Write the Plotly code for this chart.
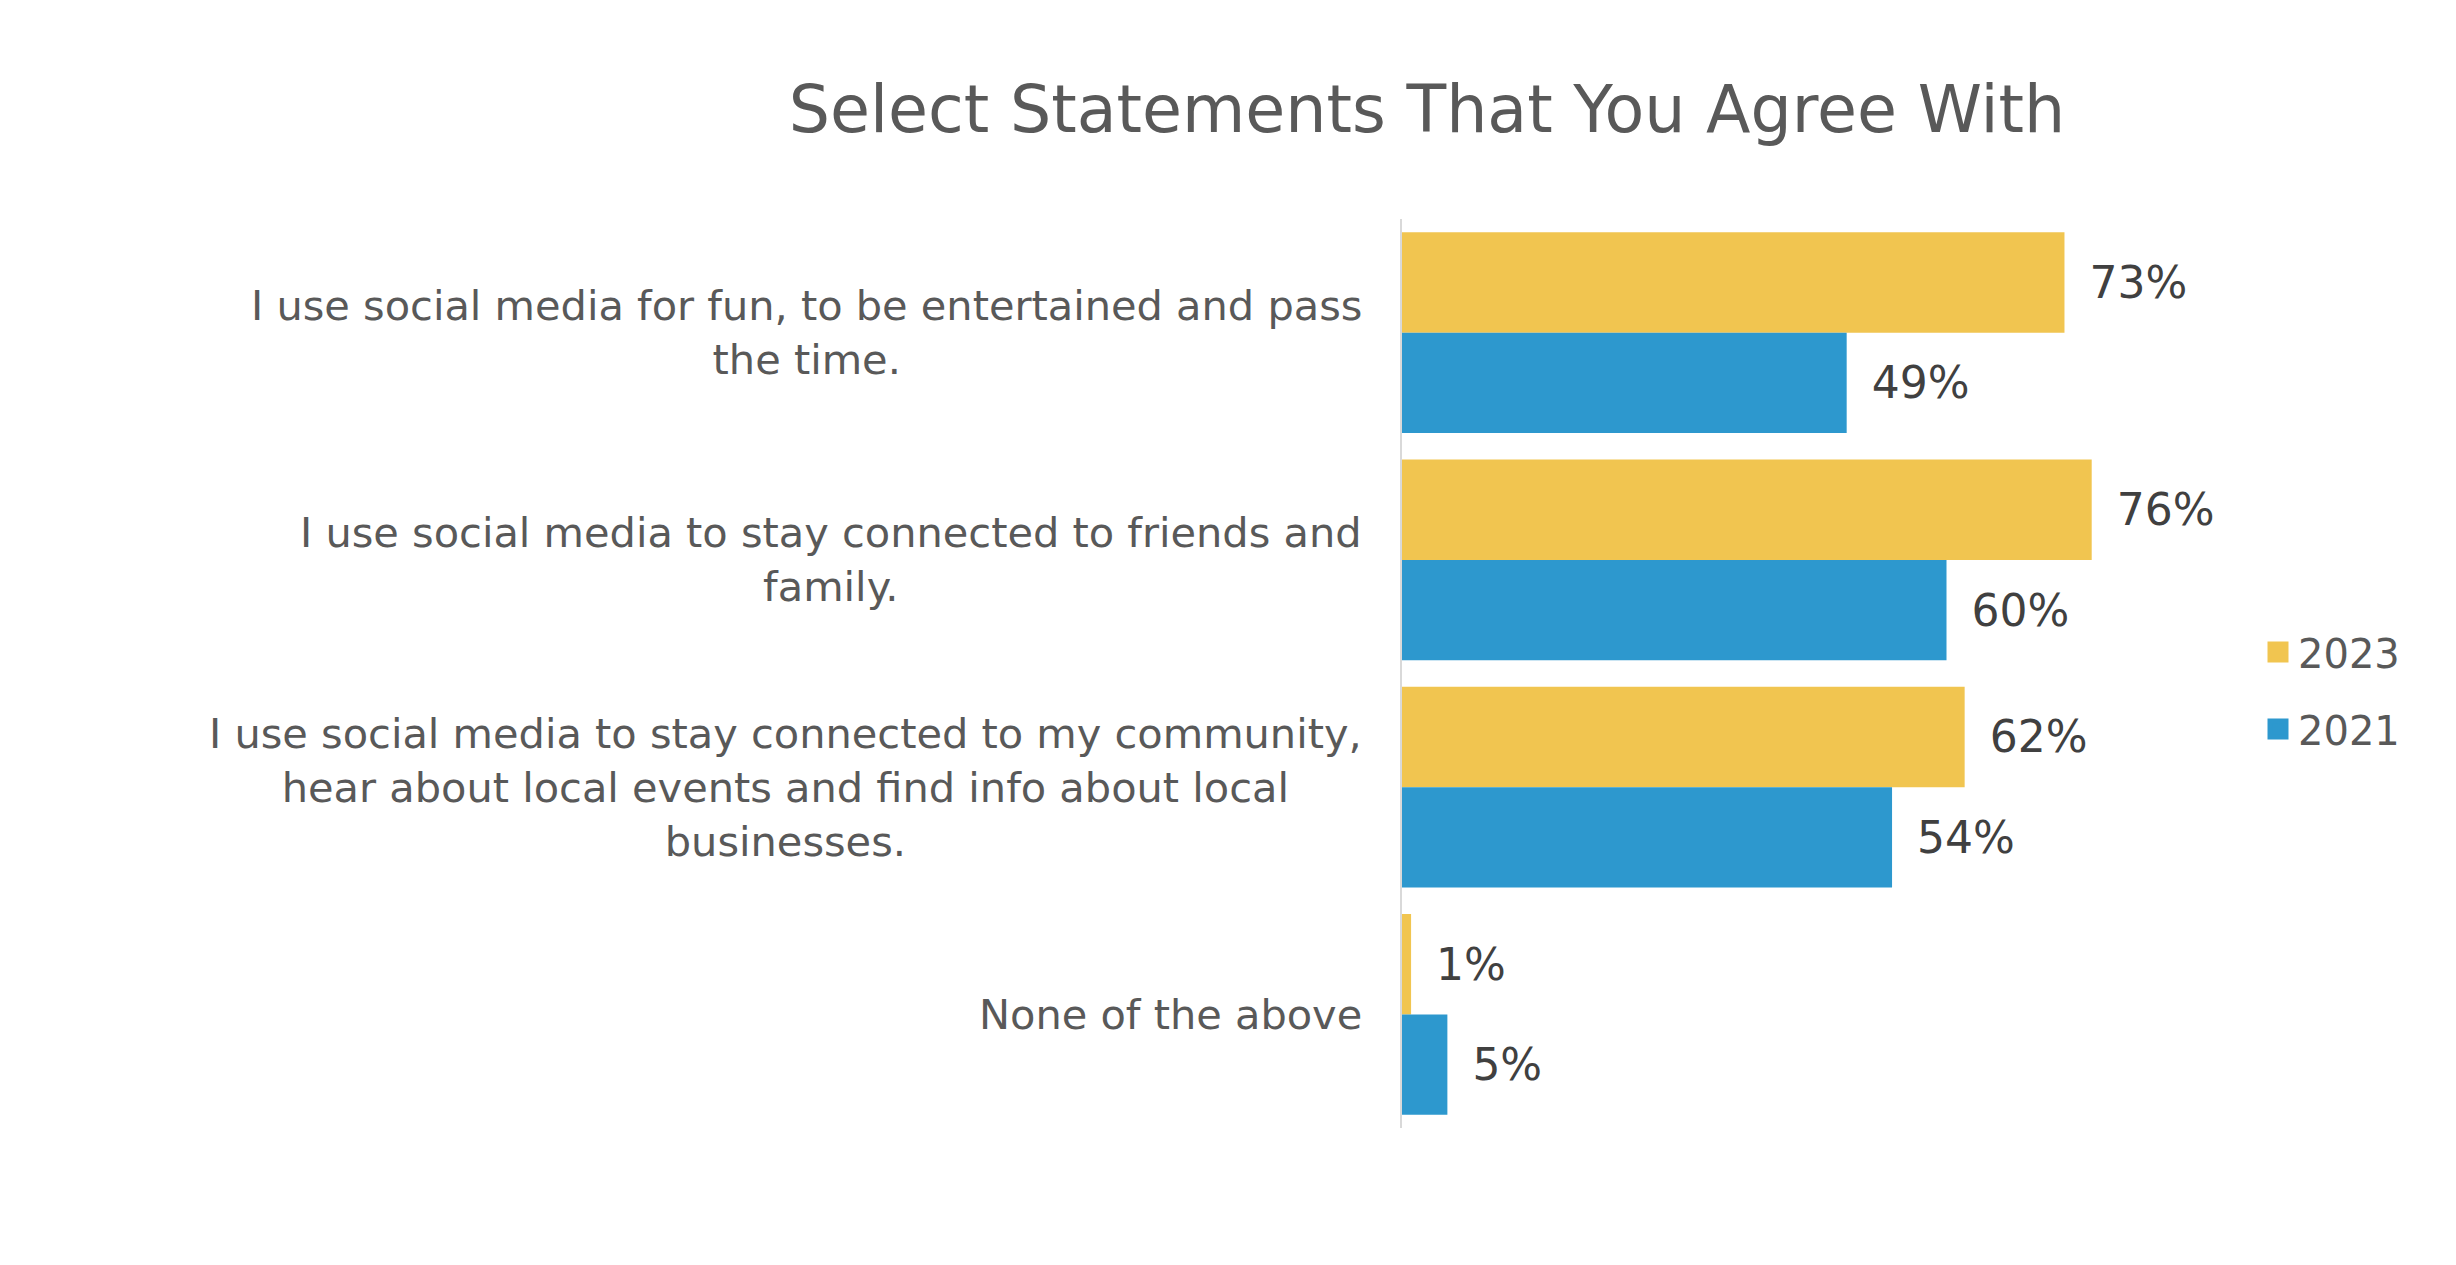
import plotly.graph_objects as go

categories = [
    "I use social media for fun, to be entertained and pass<br>the time.",
    "I use social media to stay connected to friends and<br>family.",
    "I use social media to stay connected to my community,<br>hear about local events and find info about local<br>businesses.",
    "None of the above",
]
series_names = ["2023", "2021"]
values_2023 = [0.73, 0.76, 0.62, 0.01]
values_2021 = [0.49, 0.60, 0.54, 0.05]

colors = {"2023": "#F1C550", "2021": "#2D98CE"}
FONT = "DejaVu Sans, Verdana, sans-serif"

W, H = 2456, 1265
ml, mr, mt, mb = 1394, 336, 211, 145
PW = W - ml - mr
PH = H - mt - mb

fig = go.Figure()
for name, vals in zip(series_names, [values_2023, values_2021]):
    fig.add_trace(go.Bar(
        y=categories, x=vals, name=name, orientation="h",
        marker=dict(color=colors[name], line=dict(width=0)),
        texttemplate="\u2002%{x:.0%}", textposition="outside",
        textfont=dict(family=FONT, size=44, color="#404040"),
        cliponaxis=False, showlegend=False, legendgroup=name,
    ))
# legend entries
for name in series_names:
    fig.add_trace(go.Scatter(
        x=[None], y=[None], mode="markers", name=name, legendgroup=name,
        marker=dict(symbol="square", size=16, color=colors[name],
                    line=dict(color=colors[name], width=5)),
    ))

# category labels (centered multi-line, right aligned block)
for c in categories:
    fig.add_annotation(
        x=-38 / PW, xref="paper", y=c, yref="y",
        text=c, showarrow=False, xanchor="right", yanchor="middle",
        align="center", font=dict(family=FONT, size=41.5, color="#595959"),
    )

fig.update_layout(
    width=W, height=H,
    margin=dict(l=ml, r=mr, t=mt, b=mb, pad=0),
    paper_bgcolor="white", plot_bgcolor="white",
    barmode="group", bargap=0.117, bargroupgap=0,
    title=dict(text="Select Statements That You Agree With",
               x=(1427 - 8) / W, xanchor="center", xref="container",
               y=1 - 101 / H, yanchor="middle", yref="container",
               font=dict(family=FONT, size=65, color="#595959")),
    xaxis=dict(range=[0, 0.8], showgrid=False, zeroline=False,
               showticklabels=False, showline=False, fixedrange=True),
    yaxis=dict(autorange="reversed", showticklabels=False, showgrid=False,
               showline=True, linecolor="#D9D9D9", linewidth=2, ticks=""),
    legend=dict(x=(2258 - 1402) / PW, xref="paper", y=0.5 - 17 / PH,
                yanchor="middle", xanchor="left", traceorder="grouped",
                tracegroupgap=22,
                font=dict(family=FONT, size=40, color="#595959"),
                bgcolor="rgba(0,0,0,0)", itemwidth=30),
    showlegend=True,
)

fig.write_html("out.html")
